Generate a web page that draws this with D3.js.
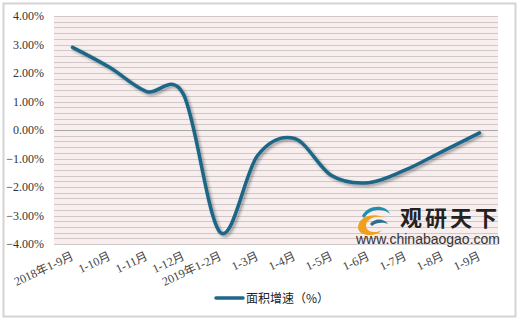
<!DOCTYPE html>
<html>
<head>
<meta charset="utf-8">
<script src="https://cdn.jsdelivr.net/npm/d3@7"></script>
<style>
  body { margin: 0; background: #fff; }
</style>
</head>
<body>
<div id="chart"></div>
<script>
// chart data
var categories = ["2018年1-9月", "1-10月", "1-11月", "1-12月", "2019年1-2月", "1-3月",
                  "1-4月", "1-5月", "1-6月", "1-7月", "1-8月", "1-9月"];
var growth = [2.9, 2.2, 1.35, 1.25, -3.6, -0.9, -0.3, -1.6, -1.85, -1.4, -0.75, -0.1];
var yTicks = [4, 3, 2, 1, 0, -1, -2, -3, -4];
var seriesName = "面积增速（%）";

var serif = "'Liberation Serif', 'Noto Sans CJK SC', serif",
    cjk = "'Noto Sans CJK SC', sans-serif";

var width = 520, height = 321;
var margin = {top: 16, right: 22, bottom: 77, left: 54};
var plotW = width - margin.left - margin.right,
    plotH = height - margin.top - margin.bottom;

var svg = d3.select("#chart")
    .append("svg")
        .attr("width", width)
        .attr("height", height);

// drop shadow for the line
var defs = svg.append("defs");
var f = defs.append("filter").attr("id", "shadow")
    .attr("x", "-10%").attr("y", "-10%").attr("width", "120%").attr("height", "130%");
f.append("feDropShadow").attr("dx", 2).attr("dy", 2).attr("stdDeviation", 1.5)
    .attr("flood-color", "#000").attr("flood-opacity", 0.35);

// outer frame
svg.append("rect")
    .attr("x", 3.5).attr("y", 3.5)
    .attr("width", width - 8).attr("height", height - 8)
    .attr("fill", "#fff")
    .attr("stroke", "#d4d4d4")
    .attr("stroke-width", 2);

var g = svg.append("g")
    .attr("transform", "translate(" + margin.left + "," + margin.top + ")");

var x = d3.scaleBand().domain(categories).range([0, plotW]);
var y = d3.scaleLinear().domain([-4, 4]).range([plotH, 0]);

// plot background
g.append("rect")
    .attr("width", plotW).attr("height", plotH)
    .attr("fill", "#f8eeee");

// minor grid every 0.2%
var minor = d3.range(-20, 21).map(function(d) { return d / 5; });
g.selectAll(".grid")
    .data(minor)
    .enter().append("line")
        .attr("class", "grid")
        .attr("x1", 0).attr("x2", plotW)
        .attr("y1", function(d) { return Math.round(y(d)) + 0.5; })
        .attr("y2", function(d) { return Math.round(y(d)) + 0.5; })
        .attr("stroke", function(d) { return d === 0 ? "#a8a8a8" : "#cfc8c8"; })
        .attr("stroke-width", 1);

// y axis labels
var yAxis = d3.axisLeft(y)
    .tickValues(yTicks)
    .tickSize(0)
    .tickPadding(10)
    .tickFormat(function(d) { return d3.format(".2f")(d) + "%"; });

g.append("g")
    .attr("class", "y axis")
    .call(yAxis)
    .call(function(s) { s.select(".domain").remove(); })
    .selectAll("text")
        .style("font-family", serif)
        .style("font-size", "12px")
        .attr("fill", "#333");

// x axis labels, rotated
var xAxis = d3.axisBottom(x).tickSize(0).tickPadding(0);
g.append("g")
    .attr("transform", "translate(0," + plotH + ")")
    .call(xAxis)
    .call(function(s) { s.select(".domain").remove(); })
    .selectAll("text")
        .style("font-family", serif)
        .style("font-size", "12px")
        .attr("fill", "#444")
        .attr("text-anchor", "end")
        .attr("dy", "0")
        .attr("transform", "translate(2,15) rotate(-25)");

// watermark
var wm = g.append("g").attr("transform", "translate(302,190)");
wm.append("path")
    .attr("d", "M2,22 C2,10 18,6 30,12 C22,9 10,12 10,20 C10,26 20,28 26,24 C22,30 4,32 2,22 Z")
    .attr("fill", "#f0a020");
wm.append("path")
    .attr("d", "M6,10 C12,-2 30,-2 34,8 C28,2 14,2 8,12 Z")
    .attr("fill", "#1f8fb0");
wm.append("path")
    .attr("d", "M14,18 C18,12 28,12 32,18 C28,16 20,16 16,20 Z")
    .attr("fill", "#2a6f8e");
wm.append("text")
    .attr("x", 44).attr("y", 20)
    .style("font-family", cjk)
    .style("font-weight", "bold")
    .style("font-size", "22px")
    .attr("letter-spacing", 3)
    .attr("fill", "#222")
    .text("观研天下");
wm.append("text")
    .attr("x", 0).attr("y", 38)
    .style("font-family", "'Liberation Sans', Arial, sans-serif")
    .style("font-size", "14px")
    .attr("fill", "#333")
    .text("www.chinabaogao.com");

// the line
var valueline = d3.line()
    .x(function(d, i) { return x(categories[i]) + x.bandwidth() / 2; })
    .y(function(d) { return y(d); })
    .curve(d3.curveCatmullRom.alpha(0));

g.append("path")
    .datum(growth)
    .attr("class", "line")
    .attr("d", valueline)
    .attr("fill", "none")
    .attr("stroke", "#1f6688")
    .attr("stroke-width", 3.5)
    .attr("stroke-linecap", "round")
    .attr("filter", "url(#shadow)");

// legend
var legend = svg.append("g").attr("transform", "translate(216,298)");
legend.append("line")
    .attr("x1", 0).attr("x2", 27)
    .attr("stroke", "#1f6688")
    .attr("stroke-width", 3.5)
    .attr("stroke-linecap", "round");
legend.append("text")
    .attr("x", 30).attr("y", 4.5)
    .style("font-family", cjk)
    .style("font-size", "12px")
    .attr("fill", "#222")
    .text(seriesName);
</script>
</body>
</html>
